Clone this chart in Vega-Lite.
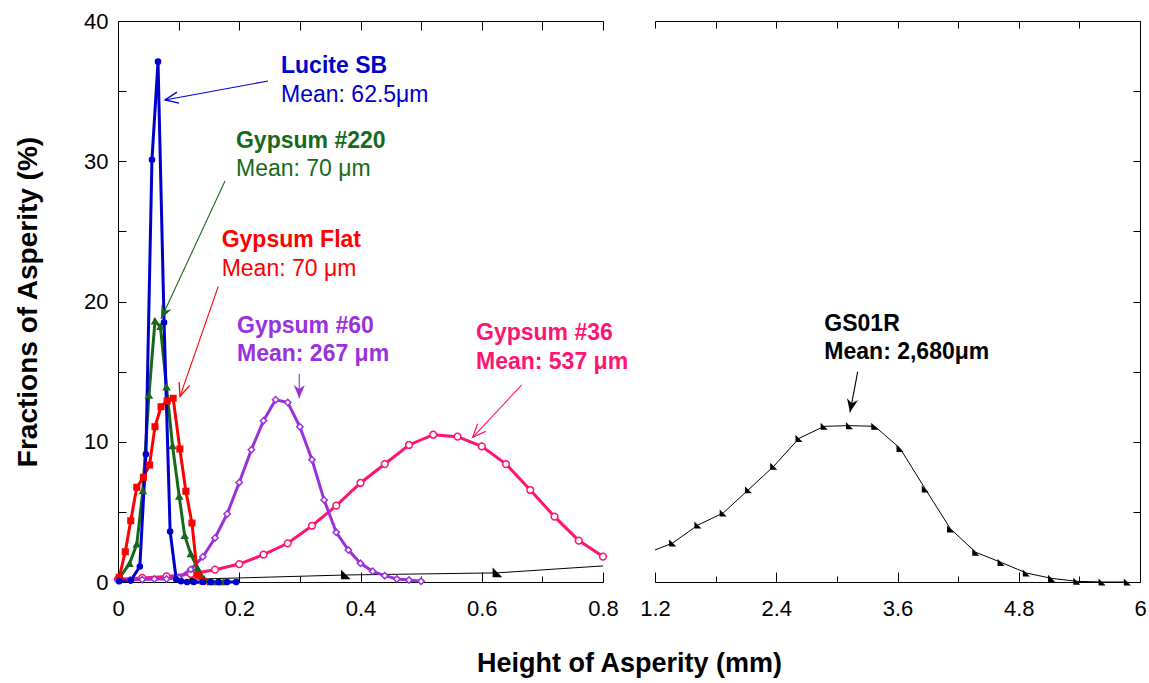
{
  "$schema": "https://vega.github.io/schema/vega-lite/v6.json",
  "background": "white",
  "padding": {"left": 14, "top": 10, "right": 9, "bottom": 8},
  "bounds": "flush",
  "spacing": 52,
  "config": {
    "view": {"stroke": null},
    "font": "Liberation Sans",
    "axis": {
      "domainColor": "black", "domainWidth": 1, "tickColor": "black", "tickWidth": 1,
      "labelColor": "black", "labelFont": "Liberation Sans", "labelFontSize": 22,
      "labelOverlap": false, "labelFlush": false, "labelBound": false,
      "grid": false, "titleColor": "black", "titleFont": "Liberation Sans"
    }
  },
  "datasets": {
    "curves": [
      {"series": "GS01R", "x": 0.125, "y": 0.2}, {"series": "GS01R", "x": 0.375, "y": 0.5},
      {"series": "GS01R", "x": 0.625, "y": 0.65}, {"series": "GS01R", "x": 1.375, "y": 2.78},
      {"series": "GS01R", "x": 1.625, "y": 4.06}, {"series": "GS01R", "x": 1.875, "y": 4.92},
      {"series": "GS01R", "x": 2.125, "y": 6.58}, {"series": "GS01R", "x": 2.375, "y": 8.25},
      {"series": "GS01R", "x": 2.625, "y": 10.24}, {"series": "GS01R", "x": 2.875, "y": 11.1},
      {"series": "GS01R", "x": 3.125, "y": 11.15}, {"series": "GS01R", "x": 3.375, "y": 11.1},
      {"series": "GS01R", "x": 3.625, "y": 9.53}, {"series": "GS01R", "x": 3.875, "y": 6.63},
      {"series": "GS01R", "x": 4.125, "y": 3.78}, {"series": "GS01R", "x": 4.375, "y": 2.12},
      {"series": "GS01R", "x": 4.625, "y": 1.4}, {"series": "GS01R", "x": 4.875, "y": 0.64},
      {"series": "GS01R", "x": 5.125, "y": 0.26}, {"series": "GS01R", "x": 5.375, "y": 0.05},
      {"series": "GS01R", "x": 5.625, "y": 0}, {"series": "GS01R", "x": 5.875, "y": 0},

      {"series": "Gypsum #36", "x": 0.0, "y": 0.2}, {"series": "Gypsum #36", "x": 0.04, "y": 0.29},
      {"series": "Gypsum #36", "x": 0.08, "y": 0.4}, {"series": "Gypsum #36", "x": 0.12, "y": 0.57},
      {"series": "Gypsum #36", "x": 0.16, "y": 0.88}, {"series": "Gypsum #36", "x": 0.2, "y": 1.28},
      {"series": "Gypsum #36", "x": 0.24, "y": 1.95}, {"series": "Gypsum #36", "x": 0.28, "y": 2.76},
      {"series": "Gypsum #36", "x": 0.32, "y": 4.01}, {"series": "Gypsum #36", "x": 0.36, "y": 5.44},
      {"series": "Gypsum #36", "x": 0.4, "y": 7.06}, {"series": "Gypsum #36", "x": 0.44, "y": 8.41},
      {"series": "Gypsum #36", "x": 0.48, "y": 9.77}, {"series": "Gypsum #36", "x": 0.52, "y": 10.5},
      {"series": "Gypsum #36", "x": 0.56, "y": 10.36}, {"series": "Gypsum #36", "x": 0.6, "y": 9.67},
      {"series": "Gypsum #36", "x": 0.64, "y": 8.41}, {"series": "Gypsum #36", "x": 0.68, "y": 6.56},
      {"series": "Gypsum #36", "x": 0.72, "y": 4.66}, {"series": "Gypsum #36", "x": 0.76, "y": 2.95},
      {"series": "Gypsum #36", "x": 0.8, "y": 1.81},

      {"series": "Gypsum #60", "x": 0.0, "y": 0.1}, {"series": "Gypsum #60", "x": 0.02, "y": 0.14},
      {"series": "Gypsum #60", "x": 0.04, "y": 0.17}, {"series": "Gypsum #60", "x": 0.06, "y": 0.21},
      {"series": "Gypsum #60", "x": 0.08, "y": 0.21}, {"series": "Gypsum #60", "x": 0.1, "y": 0.31},
      {"series": "Gypsum #60", "x": 0.12, "y": 0.9}, {"series": "Gypsum #60", "x": 0.14, "y": 1.8},
      {"series": "Gypsum #60", "x": 0.16, "y": 3.14}, {"series": "Gypsum #60", "x": 0.18, "y": 4.85},
      {"series": "Gypsum #60", "x": 0.2, "y": 7.1}, {"series": "Gypsum #60", "x": 0.22, "y": 9.43},
      {"series": "Gypsum #60", "x": 0.24, "y": 11.5}, {"series": "Gypsum #60", "x": 0.26, "y": 13.0},
      {"series": "Gypsum #60", "x": 0.28, "y": 12.8}, {"series": "Gypsum #60", "x": 0.3, "y": 11.07},
      {"series": "Gypsum #60", "x": 0.32, "y": 8.72}, {"series": "Gypsum #60", "x": 0.34, "y": 5.85},
      {"series": "Gypsum #60", "x": 0.36, "y": 3.54}, {"series": "Gypsum #60", "x": 0.38, "y": 2.28},
      {"series": "Gypsum #60", "x": 0.4, "y": 1.33}, {"series": "Gypsum #60", "x": 0.42, "y": 0.76},
      {"series": "Gypsum #60", "x": 0.44, "y": 0.45}, {"series": "Gypsum #60", "x": 0.46, "y": 0.21},
      {"series": "Gypsum #60", "x": 0.48, "y": 0.14}, {"series": "Gypsum #60", "x": 0.5, "y": 0.05},

      {"series": "Gypsum #220", "x": 0.004, "y": 0.4}, {"series": "Gypsum #220", "x": 0.019, "y": 1.3},
      {"series": "Gypsum #220", "x": 0.031, "y": 2.7}, {"series": "Gypsum #220", "x": 0.041, "y": 6.5},
      {"series": "Gypsum #220", "x": 0.051, "y": 13.3}, {"series": "Gypsum #220", "x": 0.061, "y": 18.6},
      {"series": "Gypsum #220", "x": 0.07, "y": 18.2}, {"series": "Gypsum #220", "x": 0.08, "y": 13.9},
      {"series": "Gypsum #220", "x": 0.09, "y": 9.7}, {"series": "Gypsum #220", "x": 0.101, "y": 6.1},
      {"series": "Gypsum #220", "x": 0.11, "y": 3.3}, {"series": "Gypsum #220", "x": 0.12, "y": 2.0},
      {"series": "Gypsum #220", "x": 0.131, "y": 1.0}, {"series": "Gypsum #220", "x": 0.142, "y": 0.2},
      {"series": "Gypsum #220", "x": 0.153, "y": 0}, {"series": "Gypsum #220", "x": 0.164, "y": 0},
      {"series": "Gypsum #220", "x": 0.174, "y": 0},

      {"series": "Gypsum Flat", "x": 0.002, "y": 0.33}, {"series": "Gypsum Flat", "x": 0.012, "y": 2.16},
      {"series": "Gypsum Flat", "x": 0.021, "y": 4.37}, {"series": "Gypsum Flat", "x": 0.031, "y": 6.75},
      {"series": "Gypsum Flat", "x": 0.042, "y": 7.47}, {"series": "Gypsum Flat", "x": 0.052, "y": 8.34},
      {"series": "Gypsum Flat", "x": 0.061, "y": 11.07}, {"series": "Gypsum Flat", "x": 0.071, "y": 12.5},
      {"series": "Gypsum Flat", "x": 0.081, "y": 12.9}, {"series": "Gypsum Flat", "x": 0.091, "y": 13.1},
      {"series": "Gypsum Flat", "x": 0.102, "y": 9.48}, {"series": "Gypsum Flat", "x": 0.112, "y": 6.47},
      {"series": "Gypsum Flat", "x": 0.122, "y": 4.2}, {"series": "Gypsum Flat", "x": 0.131, "y": 0.5},
      {"series": "Gypsum Flat", "x": 0.14, "y": 0.05},

      {"series": "Lucite SB", "x": 0.002, "y": 0.05}, {"series": "Lucite SB", "x": 0.021, "y": 0.1},
      {"series": "Lucite SB", "x": 0.036, "y": 1.1}, {"series": "Lucite SB", "x": 0.046, "y": 9.1},
      {"series": "Lucite SB", "x": 0.056, "y": 30.1}, {"series": "Lucite SB", "x": 0.066, "y": 37.1},
      {"series": "Lucite SB", "x": 0.076, "y": 18.5}, {"series": "Lucite SB", "x": 0.086, "y": 3.6},
      {"series": "Lucite SB", "x": 0.096, "y": 0.2}, {"series": "Lucite SB", "x": 0.104, "y": 0.05},
      {"series": "Lucite SB", "x": 0.114, "y": 0}, {"series": "Lucite SB", "x": 0.125, "y": 0},
      {"series": "Lucite SB", "x": 0.14, "y": 0}, {"series": "Lucite SB", "x": 0.153, "y": 0},
      {"series": "Lucite SB", "x": 0.166, "y": 0}, {"series": "Lucite SB", "x": 0.18, "y": 0},
      {"series": "Lucite SB", "x": 0.195, "y": 0}
    ],
    "arrows": [
      {"series": "Lucite SB", "x": 0.2474, "y": 35.72, "tx": 0.0775, "ty": 34.37},
      {"series": "Gypsum #220", "x": 0.1765, "y": 28.59, "tx": 0.0709, "ty": 18.75},
      {"series": "Gypsum Flat", "x": 0.1654, "y": 21.08, "tx": 0.1023, "ty": 13.24},
      {"series": "Gypsum #60", "x": 0.299, "y": 14.85, "tx": 0.299, "ty": 13.1},
      {"series": "Gypsum #36", "x": 0.6659, "y": 14.05, "tx": 0.585, "ty": 10.32},
      {"series": "GS01R", "x": 3.206, "y": 15.0, "tx": 3.13, "ty": 12.1}
    ],
    "notes": [
      {"series": "Lucite SB", "line": "name", "label": "Lucite SB", "x": 0.2689, "y": 36.27},
      {"series": "Lucite SB", "line": "mean", "label": "Mean: 62.5μm", "x": 0.2689, "y": 34.25},
      {"series": "Gypsum #220", "line": "name", "label": "Gypsum #220", "x": 0.1946, "y": 30.92},
      {"series": "Gypsum #220", "line": "mean", "label": "Mean: 70 μm", "x": 0.1946, "y": 28.97},
      {"series": "Gypsum Flat", "line": "name", "label": "Gypsum Flat", "x": 0.171, "y": 23.91},
      {"series": "Gypsum Flat", "line": "mean", "label": "Mean: 70 μm", "x": 0.171, "y": 21.84},
      {"series": "Gypsum #60", "line": "name", "label": "Gypsum #60", "x": 0.1963, "y": 17.75},
      {"series": "Gypsum #60", "line": "mean", "label": "Mean: 267 μm", "x": 0.1963, "y": 15.74},
      {"series": "Gypsum #36", "line": "name", "label": "Gypsum #36", "x": 0.5905, "y": 17.28},
      {"series": "Gypsum #36", "line": "mean", "label": "Mean: 537 μm", "x": 0.5905, "y": 15.19},
      {"series": "GS01R", "line": "name", "label": "GS01R", "x": 2.876, "y": 17.92},
      {"series": "GS01R", "line": "mean", "label": "Mean: 2,680μm", "x": 2.876, "y": 15.9}
    ]
  },
  "resolve": {"scale": {"x": "independent"}},
  "hconcat": [
    {
      "width": 485,
      "height": 561,
      "resolve": {"axis": {"x": "independent", "y": "independent"}},
      "layer": [
        {
          "data": {"name": "curves"},
          "transform": [{"filter": "datum.series === 'GS01R'"}],
          "mark": {"type": "line", "clip": true, "strokeWidth": 1, "color": "black"},
          "encoding": {
            "x": {"field": "x", "type": "quantitative",
              "scale": {"domain": [0, 0.8], "nice": false, "zero": false},
              "axis": {"orient": "bottom",
                "values": [0, 0.2, 0.4, 0.6, 0.8],
                "tickSize": -10, "labelPadding": 26,
                "labelExpr": "format(datum.value, '~g')",
                "title": "Height of Asperity (mm)", "titleFontSize": 27, "titleFontWeight": "bold",
                "titleX": 511, "titleAlign": "center", "titlePadding": 31}},
            "y": {"field": "y", "type": "quantitative",
              "scale": {"domain": [0, 40], "nice": false, "zero": true},
              "axis": {"orient": "left", "values": [0, 5, 10, 15, 20, 25, 30, 35, 40],
                "tickSize": -8, "labelPadding": 18,
                "labelExpr": "datum.value % 10 === 0 ? datum.label : ''",
                "title": "Fractions of Asperity (%)", "titleFontSize": 28, "titleFontWeight": "bold",
                "titlePadding": 41}}
          }
        },
        {
          "data": {"name": "curves"},
          "transform": [{"filter": "datum.series !== 'GS01R'"}],
          "mark": {"type": "line", "strokeWidth": 3},
          "encoding": {
            "x": {"field": "x", "type": "quantitative",
              "axis": {"orient": "top", "title": null, "labels": false,
                "values": [0, 0.1, 0.2, 0.3, 0.4, 0.5, 0.6, 0.7, 0.8], "tickSize": -9}},
            "y": {"field": "y", "type": "quantitative", "axis": null},
            "color": {"field": "series", "type": "nominal", "legend": null,
              "scale": {"domain": ["GS01R", "Gypsum #36", "Gypsum #60", "Gypsum #220", "Gypsum Flat", "Lucite SB"],
                "range": ["#000000", "#FF1472", "#9932DC", "#17691A", "#FF0000", "#0000CC"]}}
          }
        },
        {
          "data": {"name": "curves"},
          "transform": [{"filter": "datum.x <= 0.8"}],
          "mark": {"type": "point", "filled": true, "strokeWidth": 1.5, "opacity": 1},
          "encoding": {
            "x": {"field": "x", "type": "quantitative",
              "axis": {"orient": "bottom", "title": null, "labels": false, "domain": false,
                "values": [0.1, 0.3, 0.5, 0.7], "tickSize": -6}},
            "y": {"field": "y", "type": "quantitative", "axis": null},
            "shape": {"field": "series", "type": "nominal", "legend": null,
              "scale": {"domain": ["GS01R", "Gypsum #36", "Gypsum #60", "Gypsum #220", "Gypsum Flat", "Lucite SB"],
                "range": ["M -1 -1 L -1 1 L 1 1 Z", "circle", "diamond", "triangle-up", "square", "circle"]}},
            "size": {"field": "series", "type": "nominal", "legend": null,
              "scale": {"domain": ["GS01R", "Gypsum #36", "Gypsum #60", "Gypsum #220", "Gypsum Flat", "Lucite SB"],
                "range": [50, 26, 50, 90, 80, 55]}},
            "fill": {"field": "series", "type": "nominal", "legend": null,
              "scale": {"domain": ["GS01R", "Gypsum #36", "Gypsum #60", "Gypsum #220", "Gypsum Flat", "Lucite SB"],
                "range": ["#000000", "#FFFFFF", "#FFFFFF", "#17691A", "#FF0000", "#0000CC"]}},
            "stroke": {"field": "series", "type": "nominal", "legend": null,
              "scale": {"domain": ["GS01R", "Gypsum #36", "Gypsum #60", "Gypsum #220", "Gypsum Flat", "Lucite SB"],
                "range": ["#000000", "#FF1472", "#9932DC", "#17691A", "#FF0000", "#0000CC"]}}
          }
        },
        {
          "data": {"name": "arrows"},
          "transform": [{"filter": "datum.series !== 'GS01R'"}],
          "mark": {"type": "rule", "strokeWidth": 1.1},
          "encoding": {
            "x": {"field": "x", "type": "quantitative", "axis": null},
            "y": {"field": "y", "type": "quantitative", "axis": null},
            "x2": {"field": "tx"},
            "y2": {"field": "ty"},
            "color": {"field": "series", "type": "nominal", "legend": null}
          }
        },
        {
          "data": {"name": "arrows"},
          "transform": [
            {"filter": "datum.series === 'Lucite SB' || datum.series === 'Gypsum Flat' || datum.series === 'Gypsum #36'"},
            {"calculate": "atan2((datum.tx - datum.x) * 606.25, (datum.ty - datum.y) * 14.025) * 180 / PI", "as": "heading"}
          ],
          "mark": {"type": "point", "shape": "M -0.42 1 L 0 0 L 0.42 1", "filled": false, "strokeWidth": 1.3, "size": 700, "opacity": 1},
          "encoding": {
            "x": {"field": "tx", "type": "quantitative", "axis": null},
            "y": {"field": "ty", "type": "quantitative", "axis": null},
            "angle": {"field": "heading", "type": "quantitative", "scale": null},
            "color": {"field": "series", "type": "nominal", "legend": null}
          }
        },
        {
          "data": {"name": "arrows"},
          "transform": [
            {"filter": "datum.series === 'Gypsum #220' || datum.series === 'Gypsum #60'"},
            {"calculate": "atan2((datum.tx - datum.x) * 606.25, (datum.ty - datum.y) * 14.025) * 180 / PI", "as": "heading"}
          ],
          "mark": {"type": "point", "shape": "M 0 0 L -0.42 1 L 0 0.7 L 0.42 1 Z", "filled": true, "size": 700, "opacity": 1},
          "encoding": {
            "x": {"field": "tx", "type": "quantitative", "axis": null},
            "y": {"field": "ty", "type": "quantitative", "axis": null},
            "angle": {"field": "heading", "type": "quantitative", "scale": null},
            "color": {"field": "series", "type": "nominal", "legend": null}
          }
        },
        {
          "data": {"name": "notes"},
          "transform": [{"filter": "datum.series !== 'GS01R' && (datum.line === 'name' || datum.series === 'Gypsum #60' || datum.series === 'Gypsum #36')"}],
          "mark": {"type": "text", "align": "left", "baseline": "alphabetic", "fontSize": 23, "fontWeight": "bold", "font": "Liberation Sans"},
          "encoding": {
            "x": {"field": "x", "type": "quantitative", "axis": null},
            "y": {"field": "y", "type": "quantitative", "axis": null},
            "text": {"field": "label"},
            "color": {"field": "series", "type": "nominal", "legend": null}
          }
        },
        {
          "data": {"name": "notes"},
          "transform": [{"filter": "datum.line === 'mean' && (datum.series === 'Lucite SB' || datum.series === 'Gypsum #220' || datum.series === 'Gypsum Flat')"}],
          "mark": {"type": "text", "align": "left", "baseline": "alphabetic", "fontSize": 23, "fontWeight": "normal", "font": "Liberation Sans"},
          "encoding": {
            "x": {"field": "x", "type": "quantitative", "axis": null},
            "y": {"field": "y", "type": "quantitative", "axis": null},
            "text": {"field": "label"},
            "color": {"field": "series", "type": "nominal", "legend": null}
          }
        }
      ]
    },
    {
      "width": 485,
      "height": 561,
      "resolve": {"axis": {"x": "independent", "y": "independent"}},
      "layer": [
        {
          "data": {"name": "curves"},
          "transform": [{"filter": "datum.series === 'GS01R'"}],
          "mark": {"type": "line", "clip": true, "strokeWidth": 1, "color": "black"},
          "encoding": {
            "x": {"field": "x", "type": "quantitative",
              "scale": {"domain": [1.2, 6], "nice": false, "zero": false},
              "axis": {"orient": "bottom", "title": null,
                "values": [1.2, 2.4, 3.6, 4.8, 6.0],
                "tickSize": -10, "labelPadding": 26,
                "labelExpr": "format(datum.value, '~g')"}},
            "y": {"field": "y", "type": "quantitative",
              "scale": {"domain": [0, 40], "nice": false, "zero": true},
              "axis": {"orient": "right", "values": [0, 5, 10, 15, 20, 25, 30, 35, 40],
                "tickSize": -7, "labels": false, "title": null}}
          }
        },
        {
          "data": {"name": "curves"},
          "transform": [{"filter": "datum.series === 'GS01R' && datum.x >= 1.2"}],
          "mark": {"type": "point", "filled": true, "shape": "M -1 -1 L -1 1 L 1 1 Z", "size": 50, "color": "black", "opacity": 1},
          "encoding": {
            "x": {"field": "x", "type": "quantitative",
              "axis": {"orient": "top", "title": null, "labels": false,
                "values": [1.2, 1.8, 2.4, 3.0, 3.6, 4.2, 4.8, 5.4, 6.0], "tickSize": -7}},
            "y": {"field": "y", "type": "quantitative", "axis": null}
          }
        },
        {
          "data": {"name": "arrows"},
          "transform": [{"filter": "datum.series === 'GS01R'"}],
          "mark": {"type": "rule", "strokeWidth": 1.1, "color": "black"},
          "encoding": {
            "x": {"field": "x", "type": "quantitative",
              "axis": {"orient": "bottom", "title": null, "labels": false, "domain": false,
                "values": [1.8, 3.0, 4.2, 5.4], "tickSize": -6}},
            "y": {"field": "y", "type": "quantitative", "axis": null},
            "x2": {"field": "tx"},
            "y2": {"field": "ty"}
          }
        },
        {
          "data": {"name": "arrows"},
          "transform": [
            {"filter": "datum.series === 'GS01R'"},
            {"calculate": "atan2((datum.tx - datum.x) * 101.04, (datum.ty - datum.y) * 14.025) * 180 / PI", "as": "heading"}
          ],
          "mark": {"type": "point", "shape": "M 0 0 L -0.42 1 L 0 0.7 L 0.42 1 Z", "filled": true, "size": 700, "color": "black", "opacity": 1},
          "encoding": {
            "x": {"field": "tx", "type": "quantitative", "axis": null},
            "y": {"field": "ty", "type": "quantitative", "axis": null},
            "angle": {"field": "heading", "type": "quantitative", "scale": null}
          }
        },
        {
          "data": {"name": "notes"},
          "transform": [{"filter": "datum.series === 'GS01R'"}],
          "mark": {"type": "text", "align": "left", "baseline": "alphabetic", "fontSize": 23, "fontWeight": "bold", "font": "Liberation Sans", "color": "black"},
          "encoding": {
            "x": {"field": "x", "type": "quantitative", "axis": null},
            "y": {"field": "y", "type": "quantitative", "axis": null},
            "text": {"field": "label"}
          }
        }
      ]
    }
  ]
}
